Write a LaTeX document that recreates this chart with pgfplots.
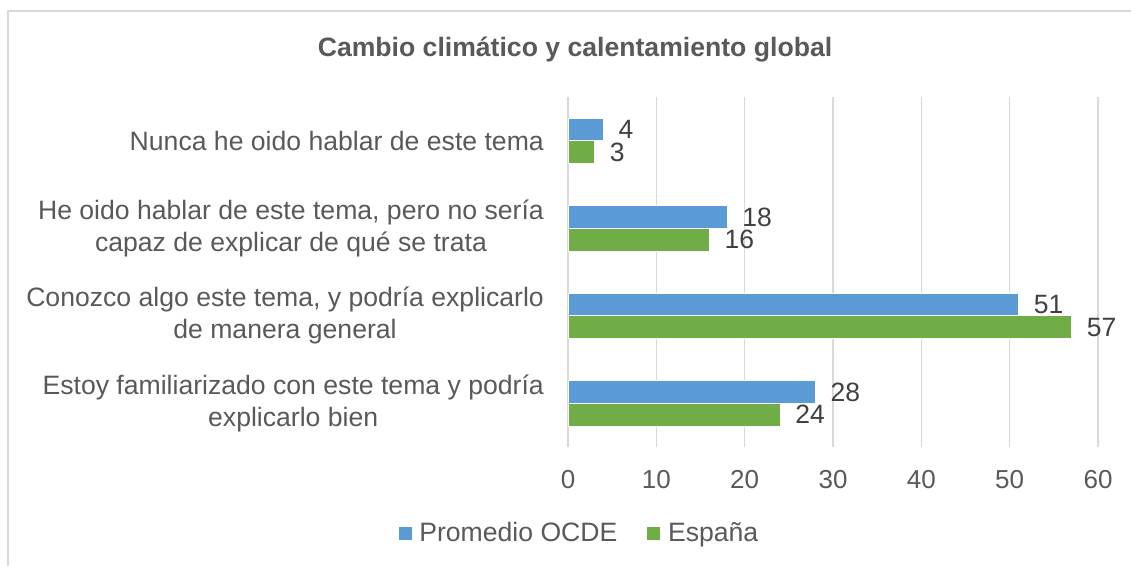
\documentclass[border=0pt]{standalone}
\usepackage{pgfplots}
\pgfplotsset{compat=1.18}
\usepackage{fontspec}
\setmainfont{Liberation Sans}
\definecolor{ocde}{HTML}{5B9BD5}
\definecolor{esp}{HTML}{70AD47}
\definecolor{txt}{HTML}{595959}
\definecolor{val}{HTML}{404040}
\definecolor{grd}{HTML}{D9D9D9}
\begin{document}
\begin{tikzpicture}[x=1pt,y=1pt]
\begin{axis}[
  at={(568pt,119pt)}, anchor=south west,
  scale only axis, width=530pt, height=350pt,
  xbar, bar width=22.7pt,
  xmin=0, xmax=60, ymin=-0.5, ymax=3.5,
  xtick={0,10,...,60}, ytick={0,1,2,3},
  yticklabels={{Estoy familiarizado con este tema y podría\\explicarlo bien},
               {Conozco algo este tema, y podría explicarlo\\de manera general},
               {He oido hablar de este tema, pero no sería\\capaz de explicar de qué se trata},
               {Nunca he oido hablar de este tema}},
  yticklabel style={align=center, font=\fontsize{26.6}{32}\selectfont, text=txt, inner sep=0pt, xshift=-24pt},
  xticklabel style={font=\fontsize{26}{30}\selectfont, text=txt, inner sep=0pt, yshift=-23pt},
  /pgf/number format/assume math mode=true,
  axis line style={draw=none},
  major tick length=0pt,
  xmajorgrids, grid style={grd, line width=1.2pt},
  clip=false,
  nodes near coords,
  every node near coord/.append style={anchor=west, inner sep=0pt, xshift=15pt, font=\fontsize{26.5}{30}\selectfont, text=val},
  legend columns=2,
  legend style={at={(0.0217,-0.2457)}, anchor=center, draw=none, fill=none,
    font=\fontsize{26.6}{30}\selectfont, text=txt,
    /tikz/every odd column/.append style={column sep=4pt},
    /tikz/every even column/.append style={column sep=26pt},
    nodes={inner sep=3pt}},
  legend image code/.code={\fill[#1] (0pt,-7pt) rectangle (14pt,7pt);},
]
\addplot[fill=ocde, draw=white, line width=0.6pt, bar shift=11.35pt] coordinates {(28,0) (51,1) (18,2) (4,3)};
\addplot[fill=esp, draw=white, line width=0.6pt, bar shift=-11.35pt] coordinates {(24,0) (57,1) (16,2) (3,3)};
\legend{Promedio OCDE, España}
\end{axis}
\node[anchor=base, font=\bfseries\fontsize{26.6}{30}\selectfont, text=txt] at (575pt,509pt) {Cambio climático y calentamiento global};
\draw[grd, line width=1.5pt] (8pt,0pt) -- (8pt,555pt) -- (1131pt,555pt);
\pgfresetboundingbox
\useasboundingbox (0pt,0pt) rectangle (1131pt,566pt);
\end{tikzpicture}
\end{document}
